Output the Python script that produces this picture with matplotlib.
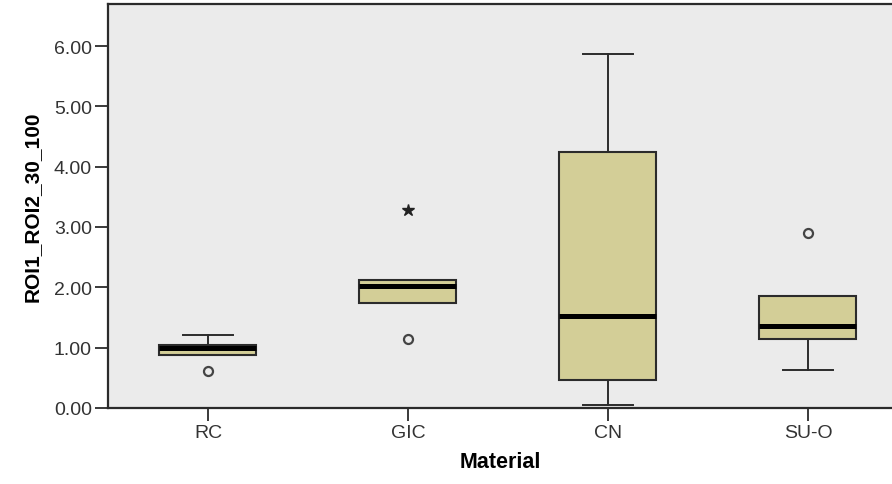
import matplotlib
matplotlib.use('Agg')
from matplotlib import pyplot as plt

plt.rcParams['font.family'] = ['Liberation Sans', 'DejaVu Sans']

# valores
materiais = ['RC', 'GIC', 'CN', 'SU-O']
whis_lo = [0.88, 1.74, 0.05, 0.63]
q1 = [0.88, 1.74, 0.46, 1.14]
mediana = [0.99, 2.02, 1.52, 1.36]
q3 = [1.05, 2.12, 4.24, 1.86]
whis_hi = [1.21, 2.12, 5.87, 1.86]
outliers = [[0.61], [1.14], [], [2.90]]
extremos = [[], [3.28], [], []]

cor_caixa = '#d3ce97'
cor_linha = '#2b2b2b'
cor_fundo = '#ebebeb'

stats = []
for i, nome in enumerate(materiais):
    stats.append({'label': nome, 'whislo': whis_lo[i], 'q1': q1[i], 'med': mediana[i],
                  'q3': q3[i], 'whishi': whis_hi[i], 'fliers': outliers[i]})

fig = plt.figure(figsize=(8.92, 4.85), dpi=100)
ax = fig.add_axes([0.121, 0.157, 0.879, 0.833])
ax.set_facecolor(cor_fundo)

pos = list(range(1, len(materiais) + 1))
ax.bxp(stats, positions=pos, widths=0.485, capwidths=0.25, patch_artist=True,
       boxprops=dict(facecolor=cor_caixa, edgecolor=cor_linha, linewidth=1.5),
       medianprops=dict(color='black', linewidth=3.6, solid_capstyle='butt'),
       whiskerprops=dict(color=cor_linha, linewidth=1.4),
       capprops=dict(color=cor_linha, linewidth=1.4),
       flierprops=dict(marker='o', markersize=6.5, markerfacecolor='none',
                       markeredgecolor='#444444', markeredgewidth=1.6))

for i, ext in enumerate(extremos):
    if ext:
        ax.plot([pos[i]] * len(ext), ext, linestyle='none', marker='*',
                markersize=9, color='#222222')

ax.set_xlim(0.5, 4.42)
ax.set_ylim(0, 6.7)
ax.set_yticks([0, 1, 2, 3, 4, 5, 6])
ax.set_yticklabels(['%.2f' % v for v in [0, 1, 2, 3, 4, 5, 6]])

for s in ['left', 'top', 'bottom']:
    ax.spines[s].set_color(cor_linha)
    ax.spines[s].set_linewidth(1.6)
ax.spines['right'].set_visible(False)

ax.tick_params(axis='both', length=9.5, width=1.3, color=cor_linha,
               labelsize=14, labelcolor='#333333', pad=2)

ax.set_ylabel('ROI1_ROI2_30_100', fontsize=15, fontweight='bold', labelpad=9)
ax.set_xlabel('Material', fontsize=15.5, fontweight='bold', labelpad=7)

plt.savefig('out.png', dpi=100)
